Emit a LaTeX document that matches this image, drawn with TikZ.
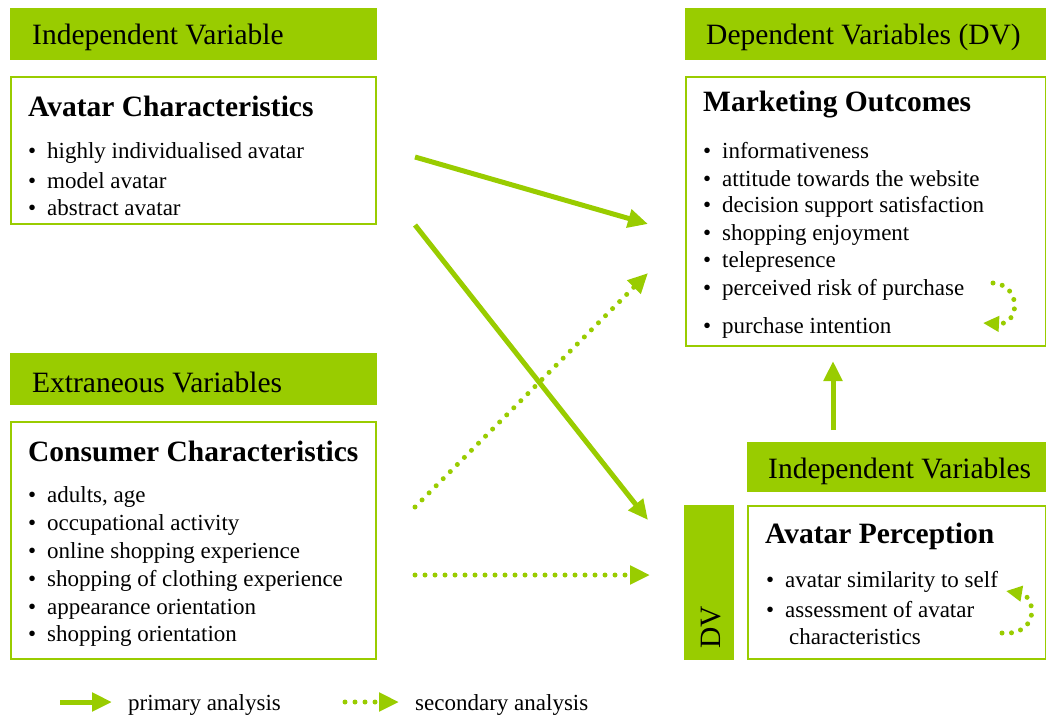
\documentclass[tikz,border=0pt]{standalone}
\usepackage{fontspec}
\setmainfont{Liberation Serif}
\usetikzlibrary{arrows.meta}
\definecolor{grn}{HTML}{99CC00}
\tikzset{
  frame/.style={draw=grn, line width=2.5pt, fill=white},
  ttl/.style={anchor=west, inner sep=0pt, font=\fontsize{29.5}{32}\selectfont\bfseries},
  htxt/.style={anchor=west, inner sep=0pt, font=\fontsize{29.5}{32}\selectfont},
  itm/.style={anchor=west, inner sep=0pt, font=\fontsize{23}{26}\selectfont},
  prim/.style={grn, line width=5pt, -{Triangle[length=20pt,width=18pt]}},
  sec/.style={grn, line width=5pt, dash pattern=on 0pt off 10pt, line cap=round, -{Triangle[length=20pt,width=18pt]}},
  secc/.style={grn, line width=5pt, dash pattern=on 0pt off 9.5pt, line cap=round, -{Triangle[length=16pt,width=15pt]}},
}
\newcommand{\bul}[1]{\makebox[19pt][l]{•}#1}
\begin{document}
\begin{tikzpicture}[x=1pt,y=-1pt]
\useasboundingbox (0,0) rectangle (1046,716);
% headers
\fill[grn] (10,8) rectangle (377,60);
\node[htxt] (h1) at (32,37) {Independent Variable};
\fill[grn] (10,353) rectangle (377,405);
\node[htxt] (h2) at (32,382) {Extraneous Variables};
\fill[grn] (685,8) rectangle (1046,60);
\node[htxt] (h3) at (706,37) {Dependent Variables (DV)};
\fill[grn] (747,442) rectangle (1046,492);
\node[htxt] (h4) at (768,471) {Independent Variables};
\fill[grn] (684,505) rectangle (734,660);
\node[htxt, rotate=90, anchor=west] (dv) at (711,649) {DV};
% boxes
\draw[frame] (11,77) rectangle (376,224);
\draw[frame] (11,422) rectangle (376,659);
\draw[frame] (686,77) rectangle (1046,346);
\draw[frame] (748,506) rectangle (1046,659);
% Avatar characteristics
\node[ttl] (t1) at (28,106) {Avatar Characteristics};
\foreach \y/\t in {153/highly individualised avatar,181/model avatar,208/abstract avatar}{
  \node[itm] at (28,\y) {\bul{\t}};}
% Consumer characteristics
\node[ttl] (t2) at (28,451) {Consumer Characteristics};
\foreach \y/\t in {497/{adults, age},525/occupational activity,553/online shopping experience,581/shopping of clothing experience,609/appearance orientation,636/shopping orientation}{
  \node[itm] at (28,\y) {\bul{\t}};}
% Marketing outcomes
\node[ttl] (t3) at (703,105) {Marketing Outcomes};
\foreach \y/\t in {151/informativeness,179/attitude towards the website,207/decision support satisfaction,235/shopping enjoyment,262/telepresence,290/perceived risk of purchase,328/purchase intention}{
  \node[itm] at (703,\y) {\bul{\t}};}
% Avatar perception
\node[ttl] (t4) at (765,536) {Avatar Perception};
\node[itm] (p1) at (766,582) {\makebox[19pt][l]{•}avatar similarity to self};
\node[itm] (p2) at (766,610) {\makebox[19pt][l]{•}assessment of avatar};
\node[itm] (p3) at (789,637) {characteristics};
% arrows
\coordinate (a1s) at (415,157); \coordinate (a1e) at (648,224);
\coordinate (a2s) at (415,225); \coordinate (a2e) at (648,520);
\coordinate (a3s) at (415,507); \coordinate (a3e) at (648,273);
\coordinate (a4s) at (415,575); \coordinate (a4e) at (650,575);
\coordinate (a5s) at (833,430); \coordinate (a5e) at (833,361);
\draw[prim] (a1s) -- (a1e);
\draw[prim] (a2s) -- (a2e);
\draw[sec] (a3s) -- (a3e);
\draw[sec] (a4s) -- (a4e);
\draw[prim] (a5s) -- (a5e);
% curved
\coordinate (c1s) at (993,283); \coordinate (c1e) at (983,323);
\draw[secc] (c1s) .. controls (1022,285) and (1020,325) .. (c1e);
\coordinate (c2s) at (1002,633); \coordinate (c2e) at (1006,591);
\draw[secc] (c2s) .. controls (1040,636) and (1036,596) .. (c2e);
% legend
\coordinate (l1s) at (60,702); \coordinate (l1e) at (112,702);
\draw[prim] (l1s) -- (l1e);
\node[itm] (lt1) at (128,705) {primary analysis};
\coordinate (l2s) at (345,702); \coordinate (l2e) at (399,702);
\draw[sec] (l2s) -- (l2e);
\node[itm] (lt2) at (415,705) {secondary analysis};
\end{tikzpicture}
\end{document}
